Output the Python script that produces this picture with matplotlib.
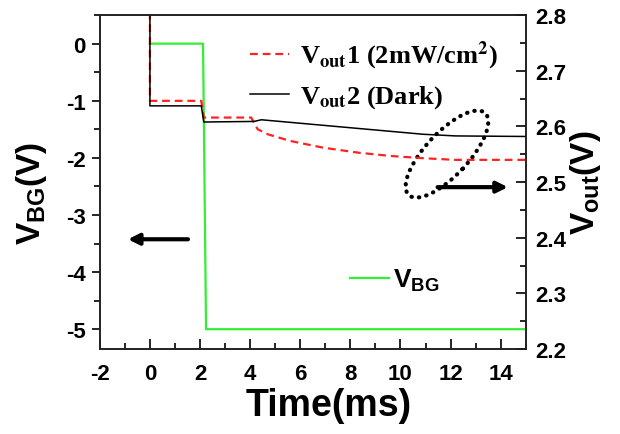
import numpy as np
import matplotlib
matplotlib.use('Agg')
import matplotlib.pyplot as plt
from matplotlib.patches import Ellipse
from matplotlib.transforms import ScaledTranslation
from matplotlib.font_manager import FontProperties
from matplotlib.ticker import MultipleLocator

plt.rcParams['font.family'] = 'Liberation Sans'
plt.rcParams['font.weight'] = 'bold'
plt.rcParams['axes.labelweight'] = 'bold'
plt.rcParams['axes.unicode_minus'] = False
plt.rcParams['mathtext.fontset'] = 'custom'
plt.rcParams['mathtext.rm'] = 'Liberation Sans:bold'
plt.rcParams['mathtext.it'] = 'Liberation Sans:bold'
plt.rcParams['mathtext.bf'] = 'Liberation Sans:bold'

# back gate voltage (left axis)
t_bg = [0, 2.12, 2.24, 15]
v_bg = [0, 0, -5, -5]

# Vout1, illuminated 2mW/cm2 (right axis)
t_out1 = [0, 0, 2.05, 2.15, 4.04, 4.3, 4.7, 5.6, 6.9, 8.3, 9.6, 10.9, 12.2, 15]
v_out1 = [2.9, 2.646, 2.646, 2.616, 2.616, 2.595, 2.586, 2.574, 2.562, 2.553, 2.547, 2.543, 2.540, 2.540]

# Vout2, dark (right axis)
t_out2 = [0, 0, 2.05, 2.15, 4.15, 4.45, 10.9, 12.2, 15]
v_out2 = [2.9, 2.637, 2.637, 2.608, 2.609, 2.612, 2.586, 2.583, 2.582]

fig = plt.figure(figsize=(6.2, 4.35), dpi=100)
ax = fig.add_axes([0.161, 0.195, 0.687, 0.768])
ax2 = ax.twinx()

ln_bg, = ax.plot(t_bg, v_bg, color='#33ee33', lw=1.6, label='V$_{BG}$')
ln1, = ax2.plot(t_out1, v_out1, color='#ff2222', lw=1.6, dashes=(3.5, 2.2),
                label=r'V$_{\mathbf{out}}$1 (2mW/cm$^{\mathbf{2}}$)')
ln2, = ax2.plot(t_out2, v_out2, color='black', lw=1.1,
                label=r'V$_{\mathbf{out}}$2 (Dark)')

ax.set_xlim(-2, 15)
ax.set_ylim(-5.35, 0.5)
ax2.set_ylim(2.2, 2.8)

ax.xaxis.set_major_locator(MultipleLocator(2))
ax.xaxis.set_minor_locator(MultipleLocator(1))
ax.yaxis.set_major_locator(MultipleLocator(1))
ax.yaxis.set_minor_locator(MultipleLocator(0.5))
ax2.yaxis.set_major_locator(MultipleLocator(0.1))
ax2.yaxis.set_minor_locator(MultipleLocator(0.05))

ax.tick_params(axis='x', which='both', direction='in', top=False, labelsize=16, pad=10)
ax.tick_params(axis='x', which='major', length=7, width=1.2)
ax.tick_params(axis='x', which='minor', length=4, width=1.2)
ax.tick_params(axis='y', which='both', direction='out', right=False, labelsize=16, pad=4)
ax.tick_params(axis='y', which='major', length=6, width=1.2)
ax.tick_params(axis='y', which='minor', length=4, width=1.2)
ax2.tick_params(axis='y', which='both', direction='in', labelsize=16, pad=7)
ax2.tick_params(axis='y', which='major', length=7, width=1.2)
ax2.tick_params(axis='y', which='minor', length=4, width=1.2)

for a in (ax, ax2):
    for s in a.spines.values():
        s.set_linewidth(1.2)
        s.set_color('#222222')

ax.set_xlabel('Time(ms)', fontsize=27)
ax.xaxis.set_label_coords(0.538, -0.112)
ax.set_ylabel('V$_{BG}$(V)', fontsize=24)
ax.yaxis.set_label_coords(-0.12, 0.47)
ax2.set_ylabel('V$_{out}$(V)', fontsize=24)
ax2.yaxis.set_label_coords(1.10, 0.5)

serif = FontProperties(family='Liberation Serif', weight='bold', size=19, math_fontfamily='stix')
leg1 = ax2.legend(handles=[ln1, ln2], loc='center left', bbox_to_anchor=(0.352, 0.822),
                  frameon=False, prop=serif, borderpad=0, borderaxespad=0,
                  handlelength=1.5, handletextpad=0.4, labelspacing=0.45)
sans = FontProperties(family='Liberation Sans', weight='bold', size=19)
leg2 = ax.legend(handles=[ln_bg], loc='center left', bbox_to_anchor=(0.587, 0.207),
                 frameon=False, prop=sans, borderpad=0, borderaxespad=0,
                 handlelength=1.5, handletextpad=0.15)

# arrows pointing to the axis each curve belongs to
arrow = dict(arrowstyle='-|>', color='black', lw=3, mutation_scale=16, shrinkA=0, shrinkB=0)
ax2.annotate('', xy=(0.066, 0.329), xytext=(0.207, 0.329), xycoords='axes fraction',
             arrowprops=arrow)
ax2.annotate('', xy=(0.958, 0.485), xytext=(0.793, 0.485), xycoords='axes fraction',
             arrowprops=arrow)

# dotted ellipse around the curve ends
tr = fig.dpi_scale_trans + ScaledTranslation(0.815, 0.584, ax.transAxes)
ax2.add_patch(Ellipse((0, 0), 1.12, 0.43, angle=47, transform=tr, fill=False,
                      lw=3, ls=(0, (0.1, 1.7)), capstyle='round', color='black',
                      clip_on=False))

fig.savefig('out.png', dpi=100)
